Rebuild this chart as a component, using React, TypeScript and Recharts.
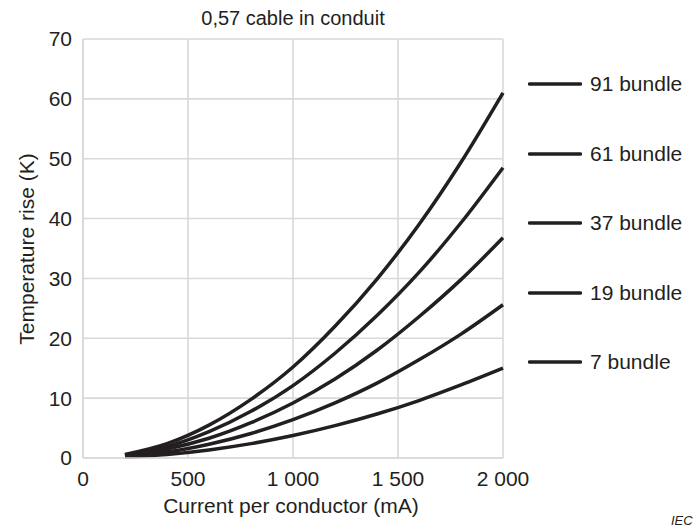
import React from 'react';
import { LineChart, Line, XAxis, YAxis, CartesianGrid, Legend } from 'recharts';

const currents = [200, 400, 600, 800, 1000, 1200, 1400, 1600, 1800, 2000];
const bundle91 = [0.6, 2.4, 5.5, 9.8, 15.2, 22.0, 29.9, 39.0, 49.4, 61.0];
const bundle61 = [0.5, 1.9, 4.4, 7.8, 12.1, 17.5, 23.8, 31.0, 39.3, 48.5];
const bundle37 = [0.4, 1.5, 3.3, 5.9, 9.2, 13.2, 18.0, 23.6, 29.8, 36.8];
const bundle19 = [0.3, 1.0, 2.3, 4.1, 6.4, 9.2, 12.5, 16.4, 20.7, 25.6];
const bundle7 = [0.15, 0.6, 1.35, 2.4, 3.75, 5.4, 7.35, 9.6, 12.2, 15.0];

const seriesKeys = ['b91', 'b61', 'b37', 'b19', 'b7'];
const seriesNames = ['91 bundle', '61 bundle', '37 bundle', '19 bundle', '7 bundle'];
const seriesValues = [bundle91, bundle61, bundle37, bundle19, bundle7];

const xTicks = [0, 500, 1000, 1500, 2000];
const yTicks = [0, 10, 20, 30, 40, 50, 60, 70];

const title = '0,57 cable in conduit';
const xLabel = 'Current per conductor (mA)';
const yLabel = 'Temperature rise (K)';
const sourceNote = 'IEC';

const data = currents.map((c, i) => {
  const row: Record<string, number> = { current: c };
  seriesKeys.forEach((k, j) => {
    row[k] = seriesValues[j][i];
  });
  return row;
});

const INK = '#231f20';
const GRID = '#d9d9d9';
const FONT = '"Liberation Sans", Arial, sans-serif';
const FS = 21;

const fmtX = (v: number) =>
  v >= 1000 ? `${Math.floor(v / 1000)} ${String(v % 1000).padStart(3, '0')}` : String(v);

const renderLegend = (props: any) => {
  const payload = [...(props.payload || [])].sort(
    (a: any, b: any) => seriesNames.indexOf(a.value) - seriesNames.indexOf(b.value)
  );
  return (
    <div style={{ fontFamily: FONT, fontSize: FS, color: INK }}>
      {payload.map((p: any, i: number) => (
        <div key={i} style={{ height: 69.5, display: 'flex', alignItems: 'flex-start' }}>
          <div style={{ height: 24, display: 'flex', alignItems: 'center' }}>
            <svg width={54} height={24} style={{ display: 'block' }}>
              <line x1={1.5} y1={12} x2={52.5} y2={12} stroke={INK} strokeWidth={3.5} strokeLinecap="round" />
            </svg>
            <span style={{ marginLeft: 8, lineHeight: '24px', whiteSpace: 'nowrap' }}>{p.value}</span>
          </div>
        </div>
      ))}
    </div>
  );
};

export default function App() {
  return (
    <div style={{ position: 'absolute', left: 0, top: 0, width: 697, height: 529, background: '#fff', fontFamily: FONT }}>
      <div
        style={{
          position: 'absolute',
          left: 83,
          width: 420,
          top: 6,
          textAlign: 'center',
          fontSize: FS - 1,
          color: INK,
          lineHeight: '24px',
        }}
      >
        {title}
      </div>
      <LineChart
        width={697}
        height={529}
        data={data}
        margin={{ top: 39, right: 194, bottom: 41, left: 23 }}
      >
        <CartesianGrid stroke={GRID} strokeWidth={1.6} />
        <XAxis
          dataKey="current"
          type="number"
          domain={[0, 2000]}
          ticks={xTicks}
          tickFormatter={fmtX}
          axisLine={{ stroke: GRID, strokeWidth: 1.6 }}
          tickLine={false}
          tickMargin={7}
          height={30}
          tick={{ fill: INK, fontSize: FS, fontFamily: FONT }}
          interval={0}
          label={{
            content: () => (
              <text x={291} y={513} textAnchor="middle" fill={INK} fontSize={FS} fontFamily={FONT}>
                {xLabel}
              </text>
            ),
          }}
        />
        <YAxis
          type="number"
          domain={[0, 70]}
          ticks={yTicks}
          axisLine={{ stroke: GRID, strokeWidth: 1.6 }}
          tickLine={false}
          tickMargin={5}
          width={60}
          interval={0}
          tick={{ fill: INK, fontSize: FS, fontFamily: FONT }}
          label={{
            content: () => (
              <text
                x={26}
                y={249}
                textAnchor="middle"
                dominantBaseline="central"
                transform="rotate(-90 26 249)"
                fill={INK}
                fontSize={FS}
                fontFamily={FONT}
              >
                {yLabel}
              </text>
            ),
          }}
        />
        <Legend
          layout="vertical"
          verticalAlign="middle"
          align="center"
          content={renderLegend}
          wrapperStyle={{ position: 'absolute', left: 528, top: 72, width: 169 }}
        />
        {seriesKeys.map((k, i) => (
          <Line
            key={k}
            dataKey={k}
            name={seriesNames[i]}
            type="monotone"
            stroke={INK}
            strokeWidth={3.5}
            dot={false}
            isAnimationActive={false}
          />
        ))}
      </LineChart>
      <div
        style={{
          position: 'absolute',
          left: 671,
          top: 513,
          fontSize: 13,
          fontStyle: 'italic',
          color: INK,
          lineHeight: '15px',
        }}
      >
        {sourceNote}
      </div>
    </div>
  );
}
